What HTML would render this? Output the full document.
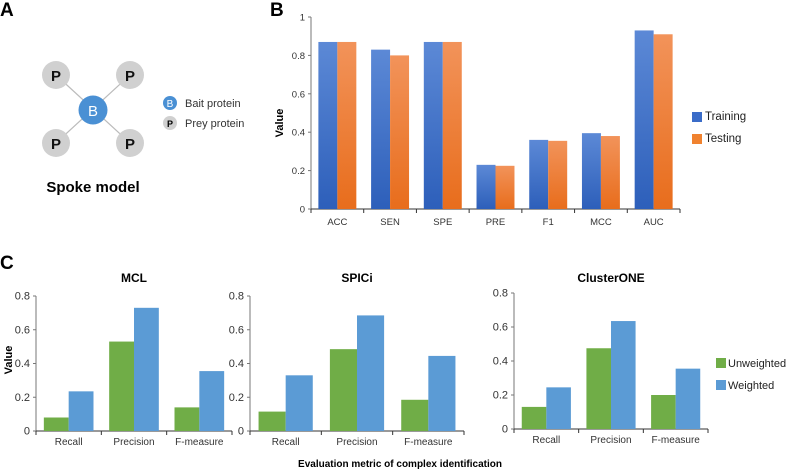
<!DOCTYPE html>
<html><head><meta charset="utf-8"><style>
body{margin:0;background:#fff;}
svg{display:block;font-family:"Liberation Sans",Arial,sans-serif;}
</style></head><body>
<svg id="fig" width="787" height="471" viewBox="0 0 787 471">
<defs>
<linearGradient id="gb" x1="0" y1="0" x2="0" y2="1"><stop offset="0" stop-color="#5c89d6"/><stop offset="1" stop-color="#2d5fba"/></linearGradient>
<linearGradient id="go" x1="0" y1="0" x2="0" y2="1"><stop offset="0" stop-color="#f2935a"/><stop offset="1" stop-color="#e86d1c"/></linearGradient>
</defs>
<g>
<text x="0" y="16" font-size="19" font-weight="bold">A</text>
<g stroke="#bbb" stroke-width="1.2">
<line x1="56" y1="75" x2="130" y2="143"/><line x1="130" y1="75" x2="56" y2="143"/></g>
<g fill="#d0d0d0">
<circle cx="56" cy="75" r="14"/><circle cx="130" cy="75" r="14"/><circle cx="56" cy="143" r="14"/><circle cx="130" cy="143" r="14"/></g>
<g font-size="15" font-weight="bold" text-anchor="middle" fill="#111">
<text x="56" y="81">P</text><text x="130" y="81">P</text><text x="56" y="149">P</text><text x="130" y="149">P</text></g>
<circle cx="93" cy="110" r="14.5" fill="#4a90d4"/>
<text x="93" y="116" font-size="15" text-anchor="middle" fill="#fff">B</text>
<circle cx="170" cy="103" r="7" fill="#4a90d4"/><text x="170" y="107" font-size="10" text-anchor="middle" fill="#fff">B</text>
<text x="185" y="107" font-size="11" fill="#333">Bait protein</text>
<circle cx="170" cy="123" r="7" fill="#d0d0d0"/><text x="170" y="127" font-size="9" font-weight="bold" text-anchor="middle">P</text>
<text x="185" y="127" font-size="11" fill="#333">Prey protein</text>
<text x="93" y="192" font-size="15" font-weight="bold" text-anchor="middle">Spoke model</text>
</g>
<text x="270" y="16" font-size="19" font-weight="bold">B</text>
<text x="0" y="269" font-size="19" font-weight="bold">C</text>
<g id="gB"></g>
<g id="gC"></g>
<text x="400" y="467" font-size="10" font-weight="bold" text-anchor="middle">Evaluation metric of complex identification</text>
<text transform="translate(12,360) rotate(-90)" font-size="11" font-weight="bold" text-anchor="middle">Value</text>
<g>
<rect x="716" y="358" width="10" height="10" fill="#70ad47"/><text x="728" y="367" font-size="11" fill="#222">Unweighted</text>
<rect x="716" y="380" width="10" height="10" fill="#5b9bd5"/><text x="728" y="389" font-size="11" fill="#222">Weighted</text>
</g>
<g>
<rect x="692" y="112" width="10" height="10" fill="#3a6cc8"/><text x="705" y="120" font-size="11.5" fill="#222">Training</text>
<rect x="692" y="134" width="10" height="10" fill="#f0822f"/><text x="705" y="142" font-size="11.5" fill="#222">Testing</text>
</g>
</svg>
<script>
const bCategories = ["ACC","SEN","SPE","PRE","F1","MCC","AUC"];
const bTraining = [0.87,0.83,0.87,0.23,0.36,0.395,0.93];
const bTesting = [0.87,0.80,0.87,0.225,0.355,0.38,0.91];
const bTicks = [0,0.2,0.4,0.6,0.8,1];
const cCategories = ["Recall","Precision","F-measure"];
const cTitles = ["MCL","SPICi","ClusterONE"];
const cUnweighted = [[0.08,0.53,0.14],[0.115,0.485,0.185],[0.13,0.475,0.20]];
const cWeighted = [[0.235,0.73,0.355],[0.33,0.685,0.445],[0.245,0.635,0.355]];
const cTicks = [0,0.2,0.4,0.6,0.8];
const NS="http://www.w3.org/2000/svg";
function mk(parent,tag,attrs,txt){const e=document.createElementNS(NS,tag);for(const k in attrs)e.setAttribute(k,attrs[k]);if(txt!==undefined)e.textContent=txt;parent.appendChild(e);return e;}
function chart(g,o){
  const y=v=>o.y0-(v/o.ymax)*(o.y0-o.y1);
  const cw=(o.x1-o.x0)/o.cats.length;
  const x=i=>o.x0+cw*i;
  mk(g,'line',{x1:o.x0,y1:o.y1,x2:o.x0,y2:o.y0,stroke:'#777','stroke-width':1});
  mk(g,'line',{x1:o.x0,y1:o.y0,x2:o.x1,y2:o.y0,stroke:'#333','stroke-width':1});
  o.ticks.forEach(t=>{
    mk(g,'line',{x1:o.x0-3,y1:y(t),x2:o.x0,y2:y(t),stroke:'#777'});
    const tl=mk(g,'text',{x:o.x0-6,y:y(t)+3.5,'font-size':o.tfs,'text-anchor':'end',fill:'#333'},String(t));
    
    
  });
  for(let i=0;i<=o.cats.length;i++) mk(g,'line',{x1:x(i),y1:o.y0,x2:x(i),y2:o.y0+4,stroke:'#333'});
  const bw=cw*o.frac/2;
  o.cats.forEach((c,i)=>{
    const cx=x(i)+cw/2;
    const b1=mk(g,'rect',{x:cx-bw,y:y(o.s1[i]),width:bw,height:o.y0-y(o.s1[i]),fill:o.c1});
    
    
    const b2=mk(g,'rect',{x:cx,y:y(o.s2[i]),width:bw,height:o.y0-y(o.s2[i]),fill:o.c2});
    
    
    const l=mk(g,'text',{x:cx,y:o.y0+o.ly,'font-size':o.fs,'text-anchor':'middle',fill:'#333'},c);
    
    
  });
}
const gB=document.getElementById('gB');
chart(gB,{x0:311,x1:680,y0:209,y1:17,ymax:1,cats:bCategories,s1:bTraining,s2:bTesting,c1:'url(#gb)',c2:'url(#go)',n1:'training',n2:'testing',ticks:bTicks,fs:9.5,tfs:9.5,frac:0.72,ly:16});
const bt=mk(gB,'text',{transform:'translate(283,123) rotate(-90)','font-size':11,'font-weight':'bold','text-anchor':'middle'},'Value');


const gC=document.getElementById('gC');
const cPos=[[36,232,431,296],[250,464,431,296],[514,708,429,293]];
cTitles.forEach((t,k)=>{
  const sub=mk(gC,'g',{});
  
  
  const p=cPos[k];
  chart(sub,{x0:p[0],x1:p[1],y0:p[2],y1:p[3],ymax:0.8,cats:cCategories,s1:cUnweighted[k],s2:cWeighted[k],c1:'#70ad47',c2:'#5b9bd5',n1:'unweighted',n2:'weighted',ticks:cTicks,fs:10,tfs:11,frac:0.76,ly:14});
  const tt=mk(sub,'text',{x:(p[0]+p[1])/2,y:282,'font-size':12,'font-weight':'bold','text-anchor':'middle'},t);
  
  
});
</script>
</body></html>
